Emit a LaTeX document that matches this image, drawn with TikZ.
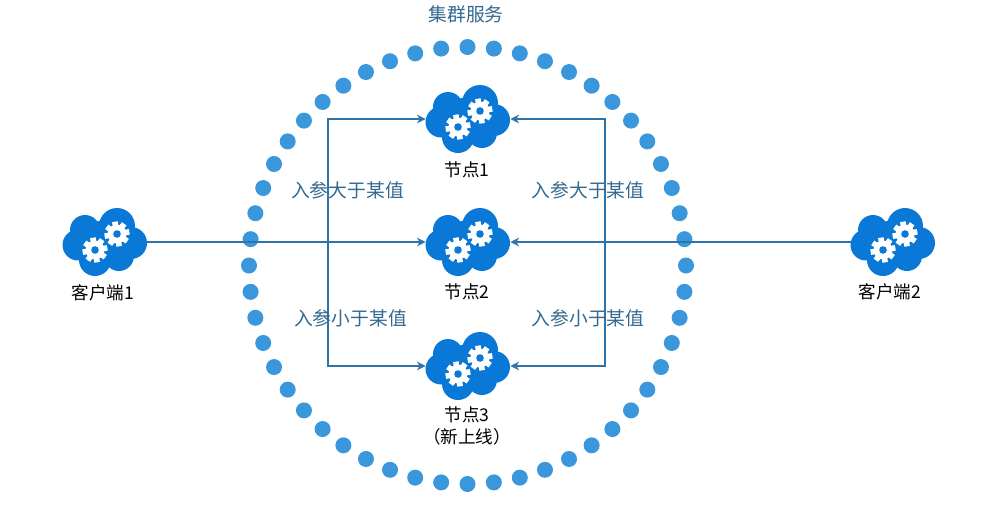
\documentclass[tikz,border=0pt]{standalone}
\usepackage{fontspec}
\usetikzlibrary{arrows.meta}
\setmainfont{Noto Sans CJK SC}
\definecolor{cloudblue}{HTML}{0A78D6}
\definecolor{dotblue}{HTML}{3A97DC}
\definecolor{linkblue}{HTML}{2F74A8}
\definecolor{notetext}{HTML}{33688F}
\tikzset{
  link/.style={linkblue, line width=.7pt},
  ringdot/.style={fill=dotblue},
  notelabel/.style={notetext, font=\fontsize{10.7}{12}\selectfont, inner sep=0pt},
  namelabel/.style={black, font=\fontsize{10}{11}\selectfont, inner sep=0pt},
  pics/gearwheel/.style={code={
    \fill[white] (0,0) circle (9.5);
    \foreach \a in {0,45,...,315}
      \fill[white, rotate=\a+10] (-2.8,6) rectangle (2.8,12.5);
    \fill[cloudblue] (0,0) circle (3.8);
  }},
  pics/gearcloud/.style={code={
    \node[minimum width=1.68cm, minimum height=1.42cm, inner sep=0pt] (box) at (0,0) {};
    \fill[cloudblue] (-27,3) circle (15.5) (-20,-12) circle (15) (12,-16) circle (18)
      (26,1) circle (16) (-10,18) circle (16) (14,14) circle (15) (0,0) circle (22);
    \pic at (-10,8) {gearwheel};
    \pic at (12,-8) {gearwheel};
  }},
}
\begin{document}
\begin{tikzpicture}[>={Stealth[length=5pt,width=5pt]}, x=.02cm, y=-.02cm]
\useasboundingbox (0,0) rectangle (997,508);

% ring of dots
\coordinate (ringc) at (467.5,265.5);
\foreach \i in {1,...,52}
  \fill[ringdot] (ringc) ++(\i*6.92308:218.5) circle (8);

\pic (n1) at (468,119) {gearcloud};
\pic (n2) at (468,242) {gearcloud};
\pic (n3) at (468,366) {gearcloud};
\pic (c1) at (105,242) {gearcloud};
\pic (c2) at (893,242) {gearcloud};

\coordinate (jl) at (328,242);
\coordinate (jr) at (605,242);

\draw[link, ->] (c1box)--(n2box);
\draw[link, ->] (c2box)--(n2box);
\draw[link, ->] (jl)|-(n1box.west);
\draw[link, ->] (jl)|-(n3box.west);
\draw[link, ->] (jr)|-(n1box.east);
\draw[link, ->] (jr)|-(n3box.east);

\node[notelabel] (ring) at (466,14) {集群服务};
\node[notelabel] (lup) at (347.5,190) {入参大于某值};
\node[notelabel] (ldn) at (350.5,318) {入参小于某值};
\node[notelabel] (rup) at (588,190) {入参大于某值};
\node[notelabel] (rdn) at (588,318) {入参小于某值};

\node[namelabel] (t1) at (467,170) {节点1};
\node[namelabel] (t2) at (467,292) {节点2};
\node[namelabel] (t3) at (467,415) {节点3};
\node[namelabel] (t3b) at (467,437) {（新上线）};
\node[namelabel] (tc1) at (103,293) {客户端1};
\node[namelabel] (tc2) at (890,292) {客户端2};

\end{tikzpicture}
\end{document}
